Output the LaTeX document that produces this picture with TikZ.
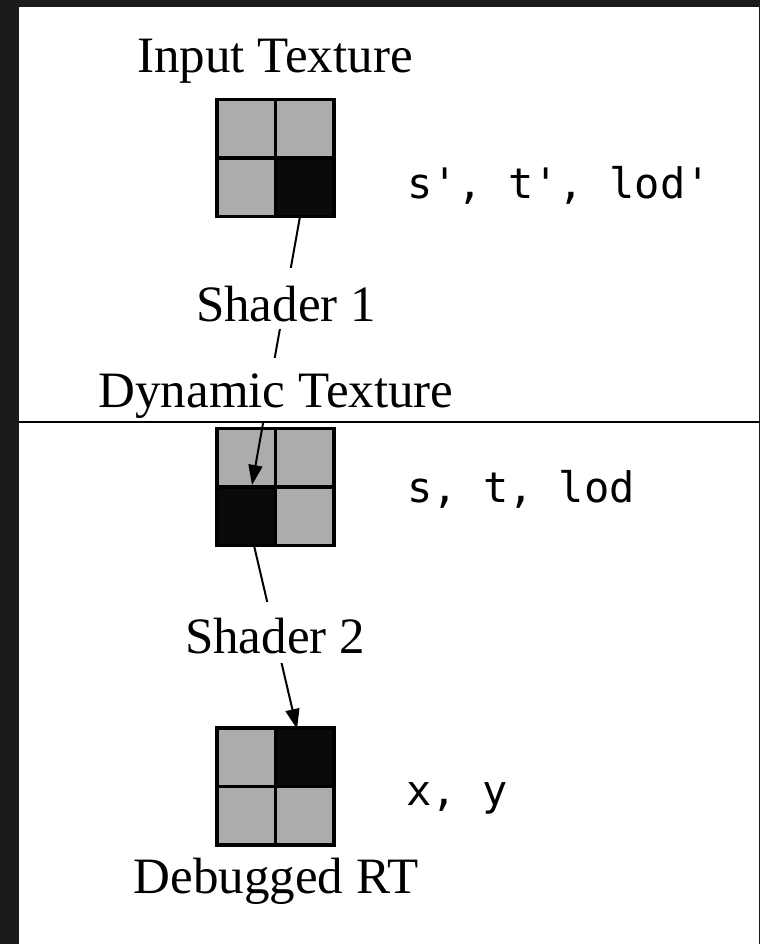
\documentclass[tikz,border=0pt]{standalone}
\usepackage{fontspec}
\setmainfont{Liberation Serif}
\newfontfamily\codefont[Ligatures=ResetAll]{DejaVu Sans Mono}
\usetikzlibrary{arrows.meta,calc}
\definecolor{framedark}{RGB}{27,27,27}
\definecolor{cellgray}{RGB}{172,172,172}
\definecolor{cellblack}{RGB}{10,10,10}
\frenchspacing

\begin{document}
\begin{tikzpicture}[x=1pt,y=-1pt,
  caption/.style={font=\fontsize{51}{51}\selectfont, anchor=base, inner sep=0pt},
  coordtext/.style={font=\codefont\fontsize{42}{42}\selectfont, anchor=base west, inner sep=0pt},
  texgrid/.style={minimum size=117pt, inner sep=0pt, outer sep=0pt},
  gridline/.style={line width=3.5pt},
  flow/.style={line width=2pt, -{Triangle[length=20pt,width=14pt]}},
  cover/.style={fill=white, inner xsep=4pt}
]
% page and dark frame
\useasboundingbox (0,0) rectangle (760,944);
\fill[framedark] (0,0) rectangle (760,944);
\fill[white] (19,7) rectangle (759,944);

% the three 2x2 textures
\node[texgrid] (g1) at (275.5,158) {};
\node[texgrid] (g2) at (275.5,487) {};
\node[texgrid] (g3) at (275.5,786.5) {};

\foreach \g in {g1,g2,g3}
  \fill[cellgray] (\g.north west) rectangle (\g.south east);
\fill[cellblack] (g1.center) rectangle (g1.south east);
\fill[cellblack] (g2.center) rectangle (g2.south west);
\fill[cellblack] (g3.center) rectangle (g3.north east);
\foreach \g in {g1,g2,g3} {
  \draw[gridline] (\g.north west) rectangle (\g.south east);
  \draw[gridline] (\g.north) -- (\g.south);
  \draw[gridline] (\g.west) -- (\g.east);
}

% sampling edges
\coordinate (e1s) at ($(g1.south)+(24.5,0)$);
\coordinate (e1t) at ($(g2.center)+(-23.5,-2)$);
\coordinate (e2s) at ($(g2.south)+(-21.5,0)$);
\coordinate (e2t) at ($(g3.north)+(21.5,1)$);
\draw[flow] (e1s) -- (e1t);
\draw[flow] (e2s) -- (e2t);

% labels sitting on the edges
\node[caption, cover, text height=53pt, text depth=8pt] (sh1) at (286,321) {Shader 1};
\node[caption, cover, text height=49pt, text depth=14pt] (dyn) at (276,407) {Dynamic Texture};
\node[caption, cover, text height=51pt, text depth=10pt] (sh2) at (275,653) {Shader 2};

% texture captions
\node[caption] (inp) at (275,73) {Input Texture};
\node[caption] (dbg) at (276,893) {Debugged RT};

% coordinate names
\node[coordtext] (c1) at (407,198) {s', t', lod'};
\node[coordtext] (c2) at (407,502) {s, t, lod};
\node[coordtext] (c3) at (406,805) {x, y};

% separator rule
\draw[line width=1.5pt] (19,422) -- (759,422);
\end{tikzpicture}
\end{document}
